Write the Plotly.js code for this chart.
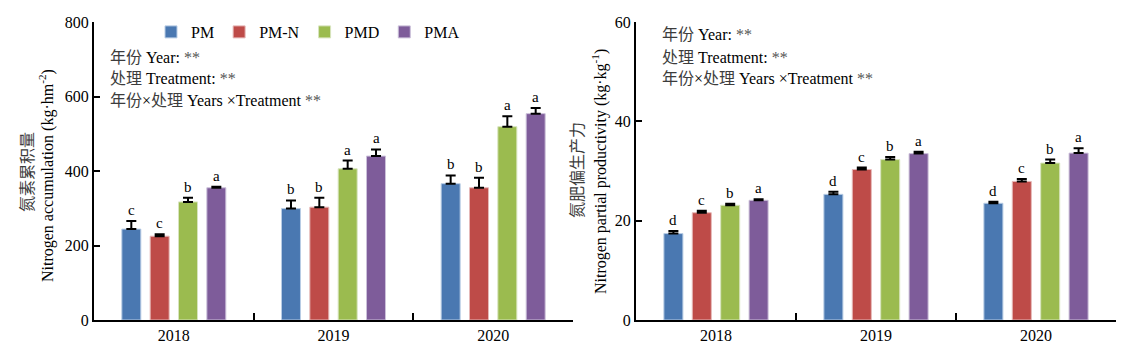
<!DOCTYPE html>
<html>
<head>
<meta charset="utf-8">
<script src="https://cdn.plot.ly/plotly-3.0.1.min.js"></script>
<style>
html,body{margin:0;padding:0;background:#fff;}
#chart{width:1132px;height:356px;}
</style>
</head>
<body>
<div id="chart"></div>
<script>
// ---- data ----
const years = ["2018", "2019", "2020"];
const treatments = ["PM", "PM-N", "PMD", "PMA"];

// Nitrogen accumulation (kg·hm-2)
const naPM   = [244, 299, 366];
const naPMN  = [225, 303, 355];
const naPMD  = [317, 406, 519];
const naPMA  = [355, 440, 554];
const naErrPM  = [22, 22, 22];
const naErrPMN = [5, 25, 27];
const naErrPMD = [11, 22, 28];
const naErrPMA = [3, 18, 15];
const naLetPM  = ["c", "b", "b"];
const naLetPMN = ["c", "b", "b"];
const naLetPMD = ["b", "a", "a"];
const naLetPMA = ["a", "a", "a"];

// Nitrogen partial productivity (kg·kg-1)
const ppPM   = [17.4, 25.3, 23.5];
const ppPMN  = [21.6, 30.3, 27.9];
const ppPMD  = [23.1, 32.3, 31.6];
const ppPMA  = [24.1, 33.5, 33.6];
const ppErrPM  = [0.5, 0.5, 0.3];
const ppErrPMN = [0.4, 0.4, 0.5];
const ppErrPMD = [0.3, 0.5, 0.7];
const ppErrPMA = [0.2, 0.4, 1.0];
const ppLetPM  = ["d", "d", "d"];
const ppLetPMN = ["c", "c", "c"];
const ppLetPMD = ["b", "b", "b"];
const ppLetPMA = ["a", "a", "a"];

const yTicksNA = [0, 200, 400, 600, 800];
const yTicksPP = [0, 20, 40, 60];

// ---- style ----
const fillColors = ["#4a78b1", "#be4b48", "#9bbb4f", "#7e5c9a"];
const edgeColors = ["#b9cde5", "#e6b9b8", "#d7e4bd", "#ccc1da"];
const SERIF = "'Liberation Serif', 'Times New Roman', 'Noto Sans CJK SC', serif";
const BARGAP = 0.29, BARGROUPGAP = 0.33;

const naVals = [naPM, naPMN, naPMD, naPMA];
const naErrs = [naErrPM, naErrPMN, naErrPMD, naErrPMA];
const naLets = [naLetPM, naLetPMN, naLetPMD, naLetPMA];
const ppVals = [ppPM, ppPMN, ppPMD, ppPMA];
const ppErrs = [ppErrPM, ppErrPMN, ppErrPMD, ppErrPMA];
const ppLets = [ppLetPM, ppLetPMN, ppLetPMD, ppLetPMA];

const traces = [];
function addSet(vals, errs, xa, ya, showleg) {
  vals.forEach((v, i) => {
    traces.push({
      type: "bar", x: years, y: v, name: treatments[i],
      xaxis: xa, yaxis: ya, showlegend: showleg,
      marker: {color: fillColors[i], line: {color: edgeColors[i], width: 1}},
      error_y: {type: "data", symmetric: false, array: errs[i],
                arrayminus: errs[i].map(() => 0),
                color: "#000", thickness: 2, width: 5},
      hoverinfo: "skip"
    });
  });
}
addSet(naVals, naErrs, "x", "y", true);
addSet(ppVals, ppErrs, "x2", "y2", false);

const annotations = [];
const slot = (1 - BARGAP) / 4;
function addLetters(vals, errs, lets, xr, yr) {
  vals.forEach((v, i) => {
    v.forEach((val, j) => {
      annotations.push({
        xref: xr, yref: yr, x: j + (i - 1.5) * slot, y: val + errs[i][j],
        text: lets[i][j], showarrow: false, yanchor: "bottom", yshift: 1,
        font: {family: SERIF, size: 15, color: "#000"}
      });
    });
  });
}
addLetters(naVals, naErrs, naLets, "x", "y");
addLetters(ppVals, ppErrs, ppLets, "x2", "y2");

const W = 1132, H = 356;
const px = v => v / W, py = v => 1 - v / H;
const CJK = t => "<span style='color:#3c3c3c'>" + t + "</span>";
const STAR = "<span style='color:#555'>**</span>";
const statLines = [
  CJK("年份") + " Year: " + STAR,
  CJK("处理") + " Treatment: " + STAR,
  CJK("年份") + "×" + CJK("处理") + " Years ×Treatment " + STAR
];
function addStats(x0, yTops) {
  statLines.forEach((t, k) => {
    annotations.push({xref: "paper", yref: "paper", x: px(x0), y: py(yTops[k]),
      xanchor: "left", yanchor: "middle", text: t, showarrow: false,
      font: {family: SERIF, size: 16, color: "#000"}});
  });
}
addStats(108, [57, 78, 100]);
addStats(660, [35, 57, 78]);

function addTitle(x, y, t) {
  annotations.push({xref: "paper", yref: "paper", x: px(x), y: py(y),
    xanchor: "center", yanchor: "middle", textangle: -90, text: t, showarrow: false,
    font: {family: SERIF, size: 16, color: "#000"}});
}
addTitle(27, 172, CJK("氮素累积量"));
addTitle(46, 176, "Nitrogen accumulation (kg·hm<sup>-2</sup>)");
addTitle(578, 170, CJK("氮肥偏生产力"));
addTitle(599, 172, "Nitrogen partial productivity (kg·kg<sup>-1</sup>)");

const xCommon = {type: "category", showline: true, linecolor: "#000", linewidth: 2,
  ticks: "inside", tickson: "boundaries", ticklen: 7, tickwidth: 2, tickcolor: "#000",
  showgrid: false, zeroline: false, tickfont: {family: SERIF, size: 16, color: "#000"},
  fixedrange: true};
const yCommon = {showline: true, linecolor: "#000", linewidth: 2, ticks: "inside",
  ticklen: 6, tickwidth: 2, tickcolor: "#000", showgrid: false, zeroline: false,
  tickfont: {family: SERIF, size: 16, color: "#000"}, fixedrange: true};

const layout = {
  width: W, height: H,
  margin: {l: 0, r: 0, t: 0, b: 0},
  paper_bgcolor: "#fff", plot_bgcolor: "#fff",
  barmode: "group", bargap: BARGAP, bargroupgap: BARGROUPGAP,
  xaxis: Object.assign({}, xCommon, {domain: [px(94), px(573)], anchor: "y"}),
  yaxis: Object.assign({}, yCommon, {domain: [py(320), py(22)], anchor: "x",
    range: [0, 800], tickvals: yTicksNA}),
  xaxis2: Object.assign({}, xCommon, {domain: [px(636), px(1116)], anchor: "y2"}),
  yaxis2: Object.assign({}, yCommon, {domain: [py(320), py(22)], anchor: "x2",
    range: [0, 60], tickvals: yTicksPP}),
  showlegend: true,
  legend: {orientation: "h", x: px(308), xanchor: "center", y: py(32), yanchor: "middle",
    font: {family: SERIF, size: 16, color: "#000"}, bgcolor: "rgba(0,0,0,0)",
    itemwidth: 30, tracegroupgap: 0},
  annotations: annotations
};

Plotly.newPlot("chart", traces, layout, {displayModeBar: false, staticPlot: true});
</script>
</body>
</html>
